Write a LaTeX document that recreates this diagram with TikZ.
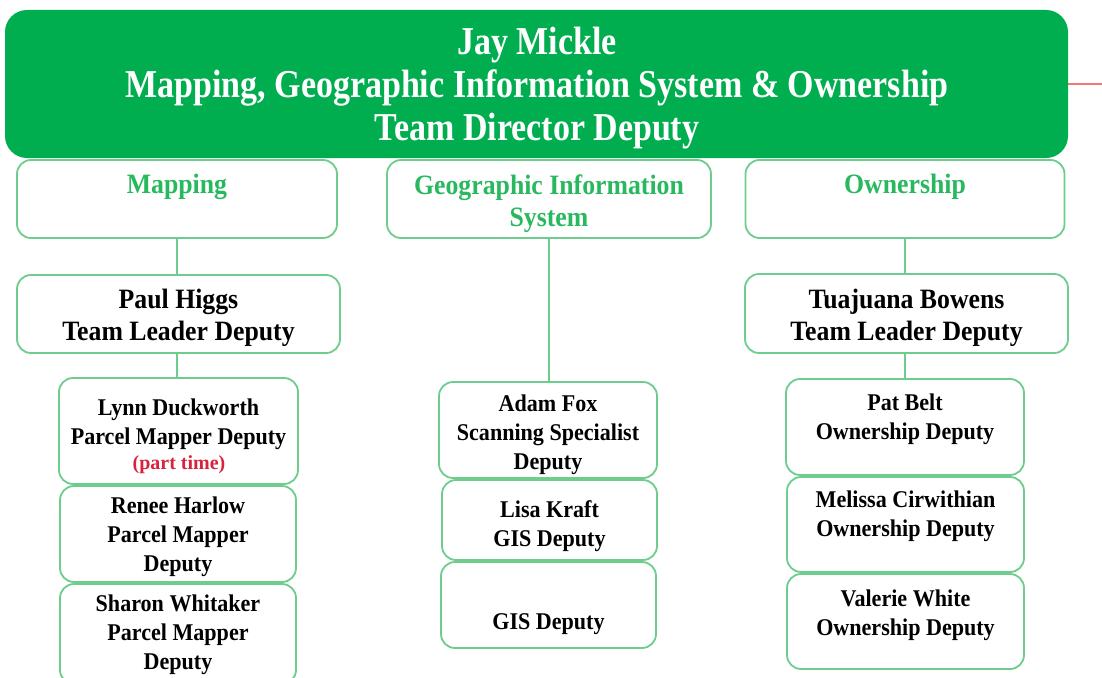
\documentclass[tikz,border=0pt]{standalone}
\usepackage{fontspec}
\setmainfont{Liberation Serif}
\newfontfamily\topfont[FakeStretch=0.86]{Liberation Serif}
\newfontfamily\bodyfont[FakeStretch=0.92]{Liberation Serif}
\definecolor{topgreen}{RGB}{0,174,80}
\definecolor{edgegreen}{RGB}{110,205,140}
\definecolor{catgreen}{RGB}{40,185,95}
\definecolor{redline}{RGB}{240,120,120}
\definecolor{parttime}{RGB}{215,35,60}
\tikzset{
  box/.style={draw=edgegreen, line width=1.8pt, rounded corners=14pt, fill=white, inner sep=0pt},
  conn/.style={draw=edgegreen, line width=1.8pt},
  toptxt/.style={text=white, font=\topfont\bfseries\fontsize{39.5}{43}\selectfont, align=center},
  cattxt/.style={text=catgreen, font=\bodyfont\bfseries\fontsize{28}{32}\selectfont, align=center},
  leadtxt/.style={text=black, font=\bodyfont\bfseries\fontsize{28}{32}\selectfont, align=center},
  stafftxt/.style={text=black, font=\bodyfont\bfseries\fontsize{24}{29}\selectfont, align=center},
}
\begin{document}
\begin{tikzpicture}[x=1pt,y=-1pt]
\useasboundingbox (0,0) rectangle (1102,677);
% top
\node[draw=none, fill=topgreen, rounded corners=22pt, minimum width=1063pt, minimum height=148pt, inner sep=0pt] (top) at (536.5,84) {};
\node[toptxt] (topT) at (537,88) {Jay Mickle\\Mapping, Geographic Information System \& Ownership\\Team Director Deputy};
\coordinate (redend) at (1102,84);
\draw[redline, line width=1.5pt] (top.east) -- (redend);
% categories
\node[box, minimum width=320pt, minimum height=78pt] (map) at (177,199) {};
\node[cattxt] (mapT) at (177,187) {Mapping};
\node[box, minimum width=324pt, minimum height=78pt] (gis) at (549,199) {};
\node[cattxt] (gisT) at (549,204) {Geographic Information\\System};
\node[box, minimum width=319pt, minimum height=78pt] (own) at (905,199) {};
\node[cattxt] (ownT) at (905,187) {Ownership};
% leaders
\node[box, minimum width=323pt, minimum height=78pt] (paul) at (178.5,314) {};
\node[leadtxt] (paulT) at (178.5,318) {Paul Higgs\\Team Leader Deputy};
\node[box, minimum width=323pt, minimum height=79pt] (tua) at (906.5,313.5) {};
\node[leadtxt] (tuaT) at (906.5,318) {Tuajuana Bowens\\Team Leader Deputy};
% mapping staff
\node[box, minimum width=239pt, minimum height=106pt] (lynn) at (178.5,431) {};
\node[stafftxt] (lynnT) at (178.5,424) {Lynn Duckworth\\Parcel Mapper Deputy};
\node[text=parttime, font=\bfseries\fontsize{20}{22}\selectfont] (lynnP) at (179,465) {(part time)};
\node[box, minimum width=236pt, minimum height=96pt] (renee) at (178,534) {};
\node[stafftxt] (reneeT) at (178,537) {Renee Harlow\\Parcel Mapper\\Deputy};
\node[box, minimum width=236pt, minimum height=100pt] (sharon) at (178,634) {};
\node[stafftxt] (sharonT) at (178,635) {Sharon Whitaker\\Parcel Mapper\\Deputy};
% gis staff
\node[box, minimum width=218pt, minimum height=96pt] (adam) at (548,430) {};
\node[stafftxt] (adamT) at (548,435) {Adam Fox\\Scanning Specialist\\Deputy};
\node[box, minimum width=215pt, minimum height=80pt] (lisa) at (549.5,520) {};
\node[stafftxt] (lisaT) at (549.5,526) {Lisa Kraft\\GIS Deputy};
\node[box, minimum width=215pt, minimum height=86pt] (gisd) at (548.5,605) {};
\node[stafftxt] (gisdT) at (548.5,624) {GIS Deputy};
% ownership staff
\node[box, minimum width=238pt, minimum height=96pt] (pat) at (905,427) {};
\node[stafftxt] (patT) at (905,419) {Pat Belt\\Ownership Deputy};
\node[box, minimum width=237pt, minimum height=95pt] (mel) at (905.5,524.5) {};
\node[stafftxt] (melT) at (905.5,516) {Melissa  Cirwithian\\Ownership Deputy};
\node[box, minimum width=237pt, minimum height=95pt] (val) at (905.5,621.5) {};
\node[stafftxt] (valT) at (905.5,615) {Valerie White\\Ownership Deputy};
% connectors
\draw[conn] (map.south) -- (paul.north -| map.south);
\draw[conn] (paul.south -| map.south) -- (lynn.north -| map.south);
\draw[conn] (gis.south) -- (adam.north -| gis.south);
\draw[conn] (own.south) -- (tua.north -| own.south);
\draw[conn] (tua.south -| own.south) -- (pat.north -| own.south);
\end{tikzpicture}
\end{document}
